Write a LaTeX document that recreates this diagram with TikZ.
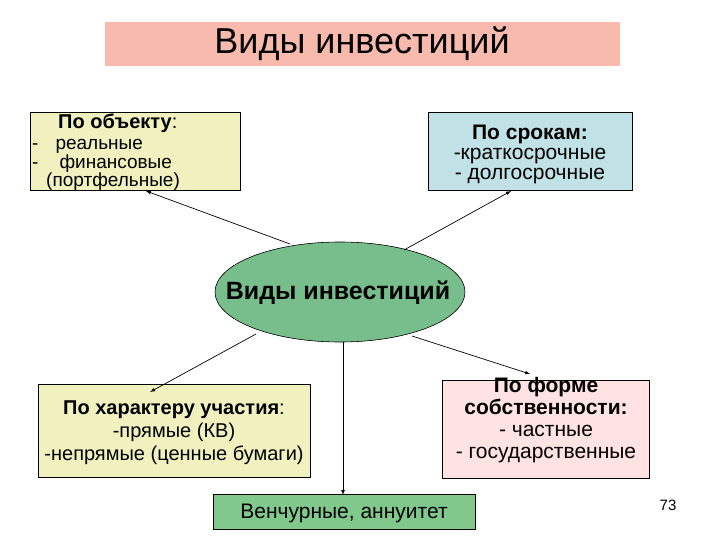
\documentclass[tikz,border=0pt]{standalone}
\usepackage{fontspec}
\setmainfont{Liberation Sans}
\usetikzlibrary{shapes.geometric}
\definecolor{tbox}{RGB}{247,186,172}
\definecolor{ybox}{RGB}{241,241,192}
\definecolor{bbox}{RGB}{192,226,230}
\definecolor{pbox}{RGB}{255,226,226}
\definecolor{gbox}{RGB}{128,200,140}
\definecolor{ell}{RGB}{120,190,140}
\tikzset{x=1pt,y=-1pt,
 bx/.style={draw,line width=0.6pt,inner sep=0},
 ar/.style={-latex,line width=0.7pt},
 tx/.style={align=center}}
\begin{document}
\begin{tikzpicture}
\useasboundingbox (0,0) rectangle (720,540);
\fill[white] (0,0) rectangle (720,540);
\node[bx,draw=none,fill=tbox,minimum width=515,minimum height=44] (title) at (362,44) {};
\node[font=\fontsize{36}{36}\selectfont] at (362,44) {Виды инвестиций};
\node[bx,fill=ybox,minimum width=210,minimum height=78] (a) at (135,151) {};
\node[font=\fontsize{20}{20}\selectfont,anchor=west,inner sep=0] at (58,123) {\textbf{По объекту}:};
\node[font=\fontsize{19}{16.5}\selectfont,anchor=north west,align=left,inner sep=0] at (32,139) {-\hspace{17pt}реальные\\-\hspace{21pt}финансовые\\\hspace{14pt}(портфельные)};
\node[bx,fill=bbox,minimum width=204,minimum height=78] (b) at (530,151) {};
\node[tx,font=\fontsize{21}{20}\selectfont] at (530,154) {\textbf{По срокам:}\\-краткосрочные\\- долгосрочные};
\node[ellipse,draw,line width=0.6pt,fill=ell,minimum width=250,minimum height=100,inner sep=0] (e) at (340,292) {};
\node[font=\bfseries\fontsize{25}{25}\selectfont] at (338,293) {Виды инвестиций};
\node[bx,fill=ybox,minimum width=272,minimum height=93] (c) at (174,431) {};
\node[tx,font=\fontsize{20}{23}\selectfont] at (174,433) {\textbf{По характеру участия}:\\-прямые (КВ)\\-непрямые (ценные бумаги)};
\node[bx,fill=pbox,minimum width=207,minimum height=98] (d) at (546,429) {};
\node[tx,font=\fontsize{21}{22}\selectfont] at (546,420) {\textbf{По форме}\\\textbf{собственности:}\\- частные\\- государственные};
\node[bx,fill=gbox,minimum width=262,minimum height=35] (f) at (344,512) {};
\node[font=\fontsize{21}{21}\selectfont] at (344,513) {Венчурные, аннуитет};
\node[font=\fontsize{15}{15}\selectfont] (n) at (668,505) {73};
\coordinate (es) at (343,342);
\coordinate (fn) at (343,495);
\draw[ar] (290,244) -- (146,191);
\draw[ar] (404,250) -- (511,191);
\draw[ar] (256,334) -- (150,392);
\draw[ar] (412,336) -- (530,374);
\draw[ar] (es) -- (fn);
\end{tikzpicture}
\end{document}
